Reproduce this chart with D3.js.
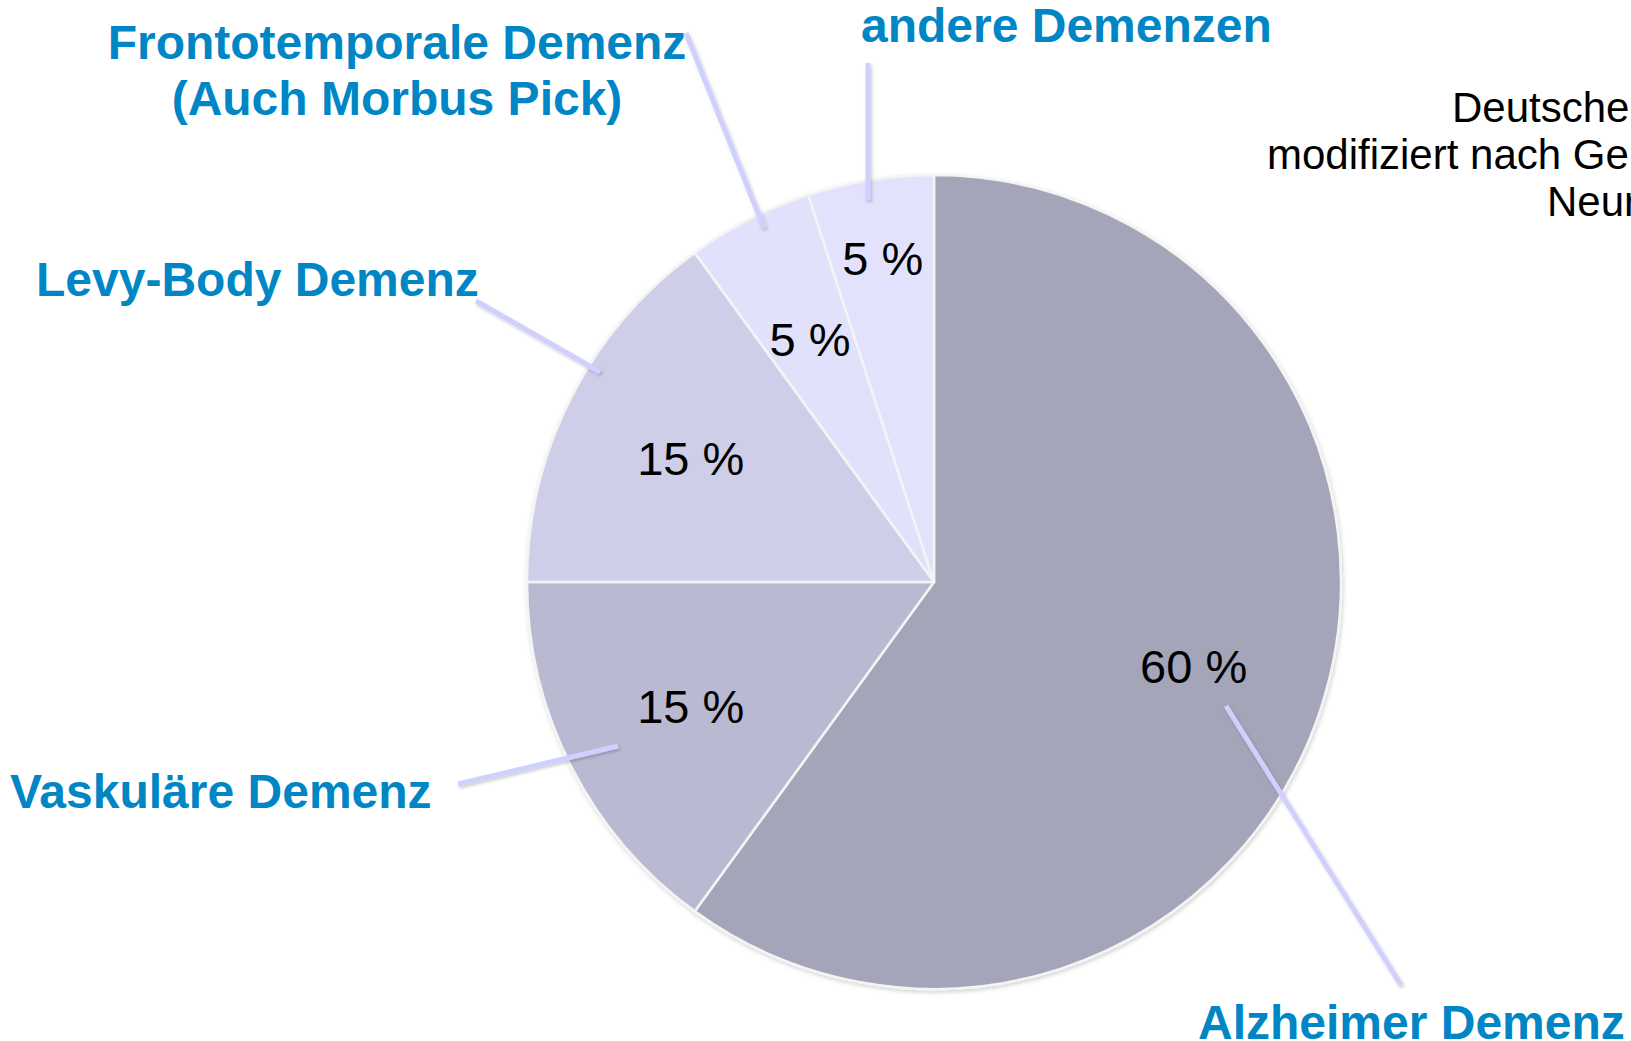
<!DOCTYPE html>
<html>
<head>
<meta charset="utf-8">
<script src="https://cdn.jsdelivr.net/npm/d3@7"></script>
<style>
  html, body { margin: 0; padding: 0; background: #fff; overflow: hidden; }
  svg { display: block; }
</style>
</head>
<body>
<div id="container"></div>
<script>
var width = 1631;
var height = 1041;

// data
var categories = ["Alzheimer Demenz", "Vaskuläre Demenz", "Levy-Body Demenz", "Frontotemporale Demenz", "andere Demenzen"];
var shares = [60, 15, 15, 5, 5];
var sliceColors = ["#a5a5ba", "#b9b9d2", "#cfcee9", "#e2e1fb", "#e3e2fc"];
var sourceLines = ["Deutsche", "modifiziert nach Ge", "Neur"];

var cx = 934, cy = 582, radius = 407;
var labelBlue = "#0086c5";

// label layout (x, baseline, anchor) + leader line ends
var layout = {
  "Alzheimer Demenz":       { lines: ["Alzheimer Demenz"], x: 1198, y: 1039, anchor: "start", leader: [[1226, 706], [1401, 985]] },
  "Vaskuläre Demenz":       { lines: ["Vaskuläre Demenz"], x: 10, y: 808, anchor: "start", leader: [[618, 746], [458, 784]] },
  "Levy-Body Demenz":       { lines: ["Levy-Body Demenz"], x: 36, y: 296, anchor: "start", leader: [[600, 372], [476, 301]] },
  "Frontotemporale Demenz": { lines: ["Frontotemporale Demenz", "(Auch Morbus Pick)"], x: 397, y: 59, anchor: "middle", leader: [[764, 228], [686, 33]] },
  "andere Demenzen":        { lines: ["andere Demenzen"], x: 861, y: 42, anchor: "start", leader: [[868, 200], [868, 63]] }
};
// distance of the percentage text from the centre
var pctRadius = 273;
var pctRadiusOverride = { "andere Demenzen": 328 };

var svg = d3.select("#container")
  .append("svg")
  .attr("width", width)
  .attr("height", height)
  .attr("viewBox", "0 0 " + width + " " + height);

var defs = svg.append("defs");
defs.append("filter")
  .attr("id", "pieShadow")
  .attr("x", "-10%").attr("y", "-10%").attr("width", "120%").attr("height", "120%")
  .append("feDropShadow")
  .attr("dx", 1).attr("dy", 2).attr("stdDeviation", 2)
  .attr("flood-color", "#000").attr("flood-opacity", 0.18);
defs.append("filter")
  .attr("id", "lineShadow")
  .attr("x", "-20%").attr("y", "-20%").attr("width", "140%").attr("height", "140%")
  .append("feDropShadow")
  .attr("dx", 1.5).attr("dy", 2).attr("stdDeviation", 1.5)
  .attr("flood-color", "#000").attr("flood-opacity", 0.2);

var pie = d3.pie().sort(null).startAngle(0).endAngle(2 * Math.PI);
var arcs = pie(shares);
var arc = d3.arc().innerRadius(0).outerRadius(radius);

var color = d3.scaleOrdinal().domain(categories).range(sliceColors);

var g = svg.append("g").attr("transform", "translate(" + cx + "," + cy + ")");

g.append("g")
  .attr("filter", "url(#pieShadow)")
  .selectAll("path")
  .data(arcs)
  .enter()
  .append("path")
  .attr("d", arc)
  .attr("fill", (d, i) => color(categories[i]))
  .attr("stroke", "#f4f4f4")
  .attr("stroke-width", 2.5)
  .attr("stroke-linejoin", "round");

// percentage labels
g.selectAll("text.pct")
  .data(arcs)
  .enter()
  .append("text")
  .attr("class", "pct")
  .attr("transform", (d, i) => {
    var r = pctRadiusOverride[categories[i]] || pctRadius;
    var c = d3.arc().innerRadius(r).outerRadius(r).centroid(d);
    return "translate(" + c[0] + "," + (c[1] + 17) + ")";
  })
  .attr("text-anchor", "middle")
  .style("font-family", "'Liberation Sans', Arial, sans-serif")
  .style("font-size", "47px")
  .style("fill", "#000")
  .text((d) => d.data + " %");

// leader lines
svg.append("g")
  .attr("filter", "url(#lineShadow)")
  .selectAll("line")
  .data(categories)
  .enter()
  .append("line")
  .attr("x1", (d) => layout[d].leader[0][0])
  .attr("y1", (d) => layout[d].leader[0][1])
  .attr("x2", (d) => layout[d].leader[1][0])
  .attr("y2", (d) => layout[d].leader[1][1])
  .attr("stroke", "#d0d0fe")
  .attr("stroke-width", 5);

// category labels
var labels = svg.append("g")
  .selectAll("text")
  .data(categories)
  .enter()
  .append("text")
  .attr("x", (d) => layout[d].x)
  .attr("y", (d) => layout[d].y)
  .attr("text-anchor", (d) => layout[d].anchor)
  .style("font-family", "'Liberation Sans', Arial, sans-serif")
  .style("font-weight", "bold")
  .style("font-size", "48px")
  .style("fill", labelBlue);

labels.selectAll("tspan")
  .data((d) => layout[d].lines.map((t) => ({ t: t, x: layout[d].x })))
  .enter()
  .append("tspan")
  .attr("x", (d) => d.x)
  .attr("dy", (d, i) => i === 0 ? 0 : 56)
  .text((d) => d.t);

// source note, top right (cut off by the page edge)
var sourceX = [1452, 1267, 1547];
var sourceY = [122, 169, 216];
svg.append("g")
  .selectAll("text")
  .data(sourceLines)
  .enter()
  .append("text")
  .attr("x", (d, i) => sourceX[i])
  .attr("y", (d, i) => sourceY[i])
  .style("font-family", "'Liberation Sans', Arial, sans-serif")
  .style("font-size", "42px")
  .style("fill", "#000")
  .text((d) => d);
</script>
</body>
</html>
